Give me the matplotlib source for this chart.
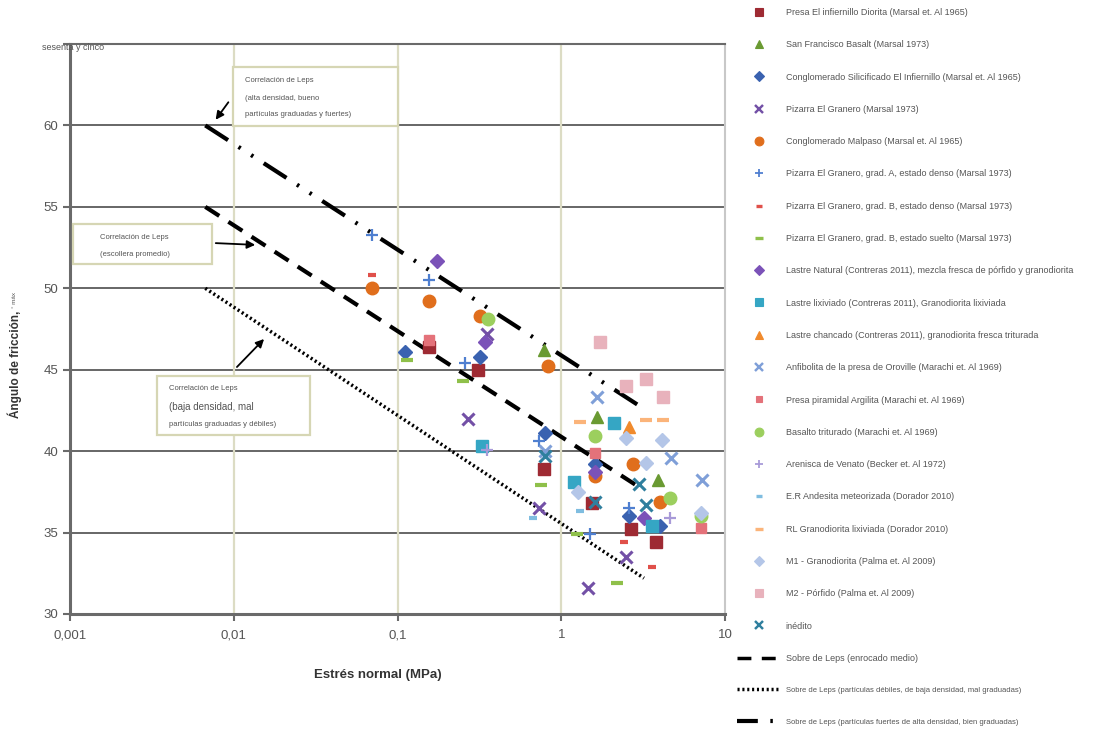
import matplotlib
matplotlib.use("Agg")
import matplotlib.pyplot as plt
from matplotlib.lines import Line2D
from matplotlib.patches import Rectangle

plt.rcParams['font.family'] = ['Liberation Sans', 'DejaVu Sans']

# Ensayos triaxiales: tensión normal (MPa) y ángulo de fricción máximo (°)
presa_infiernillo_x = [0.155, 0.31, 0.78, 1.55, 2.65, 3.8]
presa_infiernillo_y = [46.4, 45.0, 38.9, 36.8, 35.2, 34.4]
sf_basalt_x = [0.78, 1.65, 3.9]
sf_basalt_y = [46.2, 42.1, 38.2]
cong_silicificado_x = [0.111, 0.32, 0.8, 1.6, 2.6, 4.0]
cong_silicificado_y = [46.1, 45.8, 41.1, 39.2, 36.0, 35.4]
pizarra_granero_x = [0.27, 0.35, 0.73, 1.45, 2.5]
pizarra_granero_y = [42.0, 47.2, 36.5, 31.6, 33.5]
cong_malpaso_x = [0.07, 0.155, 0.32, 0.83, 1.6, 2.75, 4.0]
cong_malpaso_y = [50.0, 49.2, 48.3, 45.2, 38.5, 39.2, 36.9]
pizarra_a_denso_x = [0.07, 0.155, 0.26, 0.73, 1.5, 2.6]
pizarra_a_denso_y = [53.3, 50.5, 45.4, 40.6, 34.9, 36.5]
pizarra_b_denso_x = [0.07, 0.155, 2.4, 3.6]
pizarra_b_denso_y = [50.8, 46.9, 34.4, 32.9]
pizarra_b_suelto_x = [0.115, 0.25, 0.75, 1.25, 2.2]
pizarra_b_suelto_y = [45.6, 44.3, 37.9, 34.9, 31.9]
lastre_natural_x = [0.175, 0.34, 1.6, 3.2]
lastre_natural_y = [51.7, 46.7, 38.7, 35.9]
lastre_lixiviado_x = [0.33, 1.2, 2.1, 3.6]
lastre_lixiviado_y = [40.3, 38.1, 41.7, 35.4]
lastre_chancado_x = [2.6]
lastre_chancado_y = [41.5]
anfibolita_x = [0.8, 1.65, 4.7, 7.2]
anfibolita_y = [40.0, 43.3, 39.6, 38.2]
presa_piramidal_x = [0.155, 1.6, 7.1]
presa_piramidal_y = [46.8, 39.9, 35.3]
basalto_triturado_x = [0.357, 1.6, 4.6, 7.1]
basalto_triturado_y = [48.1, 40.9, 37.1, 36.0]
arenisca_venato_x = [0.35, 4.6]
arenisca_venato_y = [40.1, 35.9]
andesita_x = [0.67, 1.3]
andesita_y = [35.9, 36.3]
rl_granodiorita_x = [1.3, 3.3, 4.2]
rl_granodiorita_y = [41.8, 41.9, 41.9]
m1_granodiorita_x = [1.27, 2.5, 3.3, 4.1, 7.1]
m1_granodiorita_y = [37.5, 40.8, 39.3, 40.7, 36.2]
m2_porfido_x = [1.72, 2.5, 3.3, 4.2]
m2_porfido_y = [46.7, 44.0, 44.4, 43.3]
inedito_x = [0.8, 1.6, 3.0, 3.3]
inedito_y = [39.7, 36.9, 38.0, 36.7]

# envolventes de Leps
leps_x = [0.0067, 3.2]
leps_alta_y = [60.0, 42.6]
leps_media_y = [55.0, 37.6]
leps_baja_y = [50.0, 32.2]

series = [
    ("Presa El infiernillo Diorita (Marsal et. Al 1965)", presa_infiernillo_x, presa_infiernillo_y, 's', '#9e2a33', 8, 1),
    ("San Francisco Basalt (Marsal 1973)", sf_basalt_x, sf_basalt_y, '^', '#6a9a32', 8, 1),
    ("Conglomerado Silicificado El Infiernillo (Marsal et. Al 1965)", cong_silicificado_x, cong_silicificado_y, 'D', '#3a62b0', 7, 1),
    ("Pizarra El Granero (Marsal 1973)", pizarra_granero_x, pizarra_granero_y, 'x', '#7350a6', 9, 2.2),
    ("Conglomerado Malpaso (Marsal et. Al 1965)", cong_malpaso_x, cong_malpaso_y, 'o', '#e06e1c', 9, 1),
    ("Pizarra El Granero, grad. A, estado denso (Marsal 1973)", pizarra_a_denso_x, pizarra_a_denso_y, '+', '#4f7fd0', 9, 1.6),
    ("Pizarra El Granero, grad. B, estado denso (Marsal 1973)", pizarra_b_denso_x, pizarra_b_denso_y, '_', '#e0504a', 6, 3),
    ("Pizarra El Granero, grad. B, estado suelto (Marsal 1973)", pizarra_b_suelto_x, pizarra_b_suelto_y, '_', '#8fc04a', 9, 3),
    ("Lastre Natural (Contreras 2011), mezcla fresca de pórfido y granodiorita", lastre_natural_x, lastre_natural_y, 'D', '#7b52b8', 7, 1),
    ("Lastre lixiviado (Contreras 2011), Granodiorita lixiviada", lastre_lixiviado_x, lastre_lixiviado_y, 's', '#35a6c4', 8, 1),
    ("Lastre chancado (Contreras 2011), granodiorita fresca triturada", lastre_chancado_x, lastre_chancado_y, '^', '#f08a2c', 8, 1),
    ("Anfibolita de la presa de Oroville (Marachi et. Al 1969)", anfibolita_x, anfibolita_y, 'x', '#7f9fd8', 9, 2.2),
    ("Presa piramidal Argilita (Marachi et. Al 1969)", presa_piramidal_x, presa_piramidal_y, 's', '#e4727a', 7, 1),
    ("Basalto triturado (Marachi et. Al 1969)", basalto_triturado_x, basalto_triturado_y, 'o', '#9ccf5e', 9, 1),
    ("Arenisca de Venato (Becker et. Al 1972)", arenisca_venato_x, arenisca_venato_y, '+', '#a89ad8', 9, 1.6),
    ("E.R Andesita meteorizada (Dorador 2010)", andesita_x, andesita_y, '_', '#7fbde0', 6, 3),
    ("RL Granodiorita lixiviada (Dorador 2010)", rl_granodiorita_x, rl_granodiorita_y, '_', '#fbb47a', 9, 3),
    ("M1 - Granodiorita (Palma et. Al 2009)", m1_granodiorita_x, m1_granodiorita_y, 'D', '#b4c6e8', 7, 1),
    ("M2 - Pórfido (Palma et. Al 2009)", m2_porfido_x, m2_porfido_y, 's', '#e8b2bc', 8, 1),
    ("inédito", inedito_x, inedito_y, 'x', '#2f7f9e', 9, 2.2),
]

fig = plt.figure(figsize=(10.98, 7.29), dpi=100)
ax = fig.add_axes([70 / 1098, 1 - 614 / 729, 655 / 1098, 570 / 729])

ax.set_xscale('log')
ax.set_xlim(0.001, 10)
ax.set_ylim(30, 65)

# rejilla: horizontales oscuras, verticales color oliva claro
for y in range(35, 65, 5):
    ax.axhline(y, color='#5a5a5a', lw=1.3, zorder=1)
for x in [0.01, 0.1, 1]:
    ax.axvline(x, color='#dcdcc4', lw=1.6, zorder=1)

handles = []
for label, xs, ys, mk, col, ms, mew in series:
    ax.plot(xs, ys, ls='none', marker=mk, color=col, markersize=ms,
            markeredgewidth=mew, zorder=3)
    handles.append(Line2D([], [], ls='none', marker=mk, color=col,
                          markersize=ms * 0.7, markeredgewidth=mew * 0.8, label=label))

ax.plot(leps_x, leps_media_y, color='black', lw=3, ls=(0, (4, 2.6)), zorder=2)
ax.plot(leps_x, leps_baja_y, color='black', lw=2.5, ls=(0, (0.6, 0.8)), zorder=2)
ax.plot(leps_x, leps_alta_y, color='black', lw=3, ls=(0, (6.5, 3, 0.6, 3, 0.6, 3)), zorder=2)

handles.append(Line2D([], [], color='black', lw=2.5, ls=(0, (4, 3)),
                      label="Sobre de Leps (enrocado medio)"))
handles.append(Line2D([], [], color='black', lw=2.5, ls=(0, (0.6, 0.8)),
                      label="Sobre de Leps (partículas débiles, de baja densidad, mal graduadas)"))
handles.append(Line2D([], [], color='black', lw=3, ls=(0, (5, 3, 0.6, 3)),
                      label="Sobre de Leps (partículas fuertes de alta densidad, bien graduadas)"))

# ejes
for side in ['left', 'bottom']:
    ax.spines[side].set_color('#6a6a6a')
    ax.spines[side].set_linewidth(2.2)
ax.spines['top'].set_color('#6a6a6a')
ax.spines['top'].set_linewidth(1.5)
ax.spines['right'].set_color('#c8c8c8')
ax.spines['right'].set_linewidth(1.5)

ax.set_yticks([30, 35, 40, 45, 50, 55, 60, 65])
ax.set_yticklabels(['30', '35', '40', '45', '50', '55', '60', ''])
ax.set_xticks([0.001, 0.01, 0.1, 1, 10])
ax.set_xticklabels(['0,001', '0,01', '0,1', '1', '10'])
ax.minorticks_off()
ax.tick_params(axis='both', colors='#6a6a6a', labelcolor='#555555',
               labelsize=9.5, length=5, width=1.5)
ax.tick_params(axis='x', pad=6)

fig.text(42 / 1098, 1 - 47 / 729, "sesenta y cinco", fontsize=6.5, color='#555555',
         ha='left', va='center')

fig.text(15 / 1098, 1 - 364 / 729, "Ángulo de fricción,", rotation=90,
         fontsize=8.5, fontweight='bold', color='#333333', ha='center', va='center')
fig.text(15 / 1098, 1 - 300 / 729, "° máx", rotation=90, fontsize=4.5,
         color='#555555', ha='center', va='center')
fig.text(378 / 1098, 1 - 675 / 729, "Estrés normal (MPa)", fontsize=9.5,
         fontweight='bold', color='#333333', ha='center', va='center')


def caja(x0, y0, x1, y1):
    # coordenadas en píxeles de la figura
    fx0, fx1 = (x0 - 70) / 655, (x1 - 70) / 655
    fy0, fy1 = (614 - y1) / 570, (614 - y0) / 570
    ax.add_patch(Rectangle((fx0, fy0), fx1 - fx0, fy1 - fy0, transform=ax.transAxes,
                           facecolor='white', edgecolor='#d6d6b4', lw=1.6, zorder=4,
                           clip_on=False))


def texto(px, py, s, size=5.5):
    ax.text((px - 70) / 655, (614 - py) / 570, s, transform=ax.transAxes,
            fontsize=size, color='#555555', ha='left', va='center', zorder=5)


def flecha(px0, py0, px1, py1):
    ax.annotate('', xy=((px1 - 70) / 655, (614 - py1) / 570),
                xytext=((px0 - 70) / 655, (614 - py0) / 570),
                xycoords='axes fraction', textcoords='axes fraction',
                arrowprops=dict(arrowstyle='-|>', color='black', lw=1.3,
                                mutation_scale=12), zorder=5)


caja(233, 67, 398, 126)
texto(245, 81, "Correlación de Leps")
texto(245, 98, "(alta densidad, bueno")
texto(245, 115, "partículas graduadas y fuertes)")
flecha(230, 100, 214, 122)

caja(73, 224, 212, 264)
texto(100, 238, "Correlación de Leps")
texto(100, 254, "(escollera promedio)")
flecha(213, 243, 258, 245)

caja(157, 376, 310, 435)
texto(169, 389, "Correlación de Leps")
texto(169, 407, "(baja densidad, mal", size=7)
texto(169, 425, "partículas graduadas y débiles)")
flecha(235, 369, 266, 337)

leg = fig.legend(handles=handles, loc='upper left',
                 bbox_to_anchor=(737 / 1098, 1 - 8 / 729), frameon=False,
                 fontsize=6.5, labelspacing=2.58, handlelength=4.8, handletextpad=0.6,
                 borderpad=0, borderaxespad=0)
for i, t in enumerate(leg.get_texts()):
    t.set_color('#555555')
    if i >= len(series) + 1:
        t.set_fontsize(5.5)

fig.savefig('out.png', dpi=100)
